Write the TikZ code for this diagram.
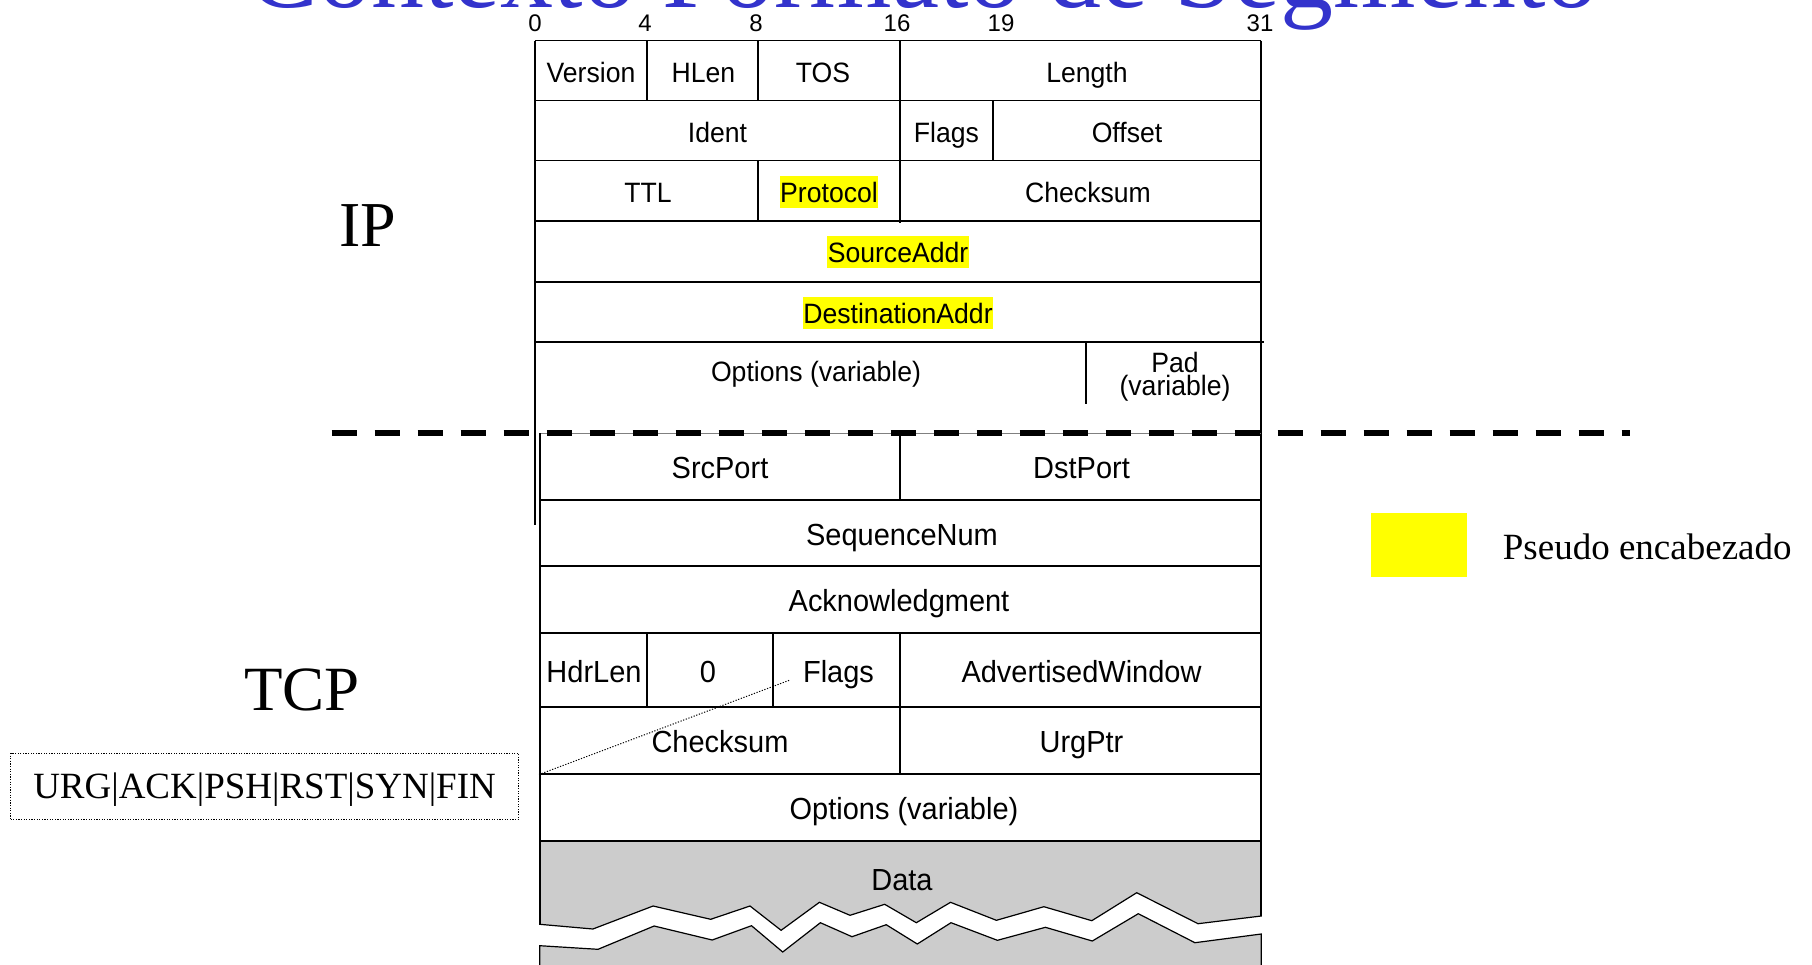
\documentclass[tikz,border=0pt]{standalone}
\usepackage{fontspec}
\setmainfont{Liberation Serif}
\newfontfamily\tblf[FakeStretch=0.95]{Liberation Sans}
\newfontfamily\bitf{Liberation Sans}
\definecolor{hlyellow}{RGB}{255,255,0}
\definecolor{titleblue}{RGB}{51,51,204}
\definecolor{datagray}{RGB}{204,204,204}
\begin{document}
\begin{tikzpicture}[x=1pt,y=-1pt,
  ipc/.style={font=\tblf\fontsize{28}{30}\selectfont, inner sep=0pt, anchor=base},
  tcpc/.style={font=\tblf\fontsize{30.5}{33}\selectfont, inner sep=0pt, anchor=base},
  hl/.style={fill=hlyellow, text height=26pt, text depth=5pt, inner ysep=0.5pt, inner xsep=0.5pt},
  bit/.style={font=\bitf\fontsize{24}{26}\selectfont, inner sep=0pt},
  gridline/.style={line width=1.6pt},
  zig/.style={line width=1.2pt},
  big/.style={font=\fontsize{64}{66}\selectfont, inner sep=0pt, anchor=base}]
\useasboundingbox (0,0) rectangle (1812,964);
\clip (0,0) rectangle (1812,964);

% title (cut off at top)
\node[font=\fontsize{106}{110}\selectfont, text=titleblue, anchor=base, inner sep=0pt] (title) at (923,7) {Contexto Formato de Segmento};

% bit numbers
\node[bit] (b0) at (535,23) {0};
\node[bit] (b4) at (645,23) {4};
\node[bit] (b8) at (756,23) {8};
\node[bit] (b16) at (897,23) {16};
\node[bit] (b19) at (1001,23) {19};
\node[bit] (b31) at (1260,23) {31};

% ---- TCP data area (gray, broken)
\filldraw[fill=datagray, zig] (539.7,841) -- (1261,841) -- (1261.2,916)
  -- (1198,923.7) -- (1136.7,892.7) -- (1091.8,920.7) -- (1043.9,906.7)
  -- (996.4,920.3) -- (950.5,902.3) -- (916.3,922.7) -- (884.7,904.3)
  -- (850,915.3) -- (819.4,902.3) -- (781.1,930.3) -- (750,906)
  -- (710.7,919.3) -- (653.1,906) -- (592.9,929) -- (539.8,924.3) -- cycle;
\fill[datagray] (539.8,975) -- (539.8,945.7) -- (598,949.3) -- (654.1,926)
  -- (712.2,940) -- (751.5,925.7) -- (782.7,952) -- (820.4,922.7)
  -- (852,936.7) -- (886.2,924.7) -- (917.3,944) -- (951,922.7)
  -- (997.4,940.3) -- (1045.4,927.3) -- (1092.3,941) -- (1138.3,913.7)
  -- (1194.9,942.7) -- (1261.2,934) -- (1261.2,975) -- cycle;
\draw[zig] (539.8,975) -- (539.8,945.7) -- (598,949.3) -- (654.1,926)
  -- (712.2,940) -- (751.5,925.7) -- (782.7,952) -- (820.4,922.7)
  -- (852,936.7) -- (886.2,924.7) -- (917.3,944) -- (951,922.7)
  -- (997.4,940.3) -- (1045.4,927.3) -- (1092.3,941) -- (1138.3,913.7)
  -- (1194.9,942.7) -- (1261.2,934) -- (1261.2,975);

% ---- IP header grid
\draw[gridline] (535,40.5) -- (1261,40.5);
\draw[gridline] (535,100.5) -- (1261,100.5);
\draw[gridline] (535,160.6) -- (1261,160.6);
\draw[gridline] (535,220.7) -- (1261,220.7);
\draw[gridline] (535,282) -- (1261,282);
\draw[gridline] (535,342) -- (1264,342);
\draw[gridline] (535,40.5) -- (535,525);
\draw[gridline] (1261,40.5) -- (1261,916);
\draw[gridline] (647,40.5) -- (647,100.5);
\draw[gridline] (758,40.5) -- (758,100.5);
\draw[gridline] (758,160.6) -- (758,220.7);
\draw[gridline] (900,40.5) -- (900,223);
\draw[gridline] (993,100.5) -- (993,160.6);
\draw[gridline] (1086,342) -- (1086,404);

% ---- TCP header grid
\draw[gray, line width=1pt] (539.7,433) -- (1261,433);
\draw[gridline] (539.7,433) -- (539.7,924.3);
\foreach \yy in {500,566,633,707,774,841}
  \draw[gridline] (539.7,\yy) -- (1261,\yy);
\draw[gridline] (900,433) -- (900,500);
\draw[gridline] (647,633) -- (647,707);
\draw[gridline] (773,633) -- (773,707);
\draw[gridline] (900,633) -- (900,774);

% dashed separator
\draw[line width=6.7pt, dash pattern=on 25pt off 18pt] (331.6,433) -- (1629.5,433);

% ---- IP labels
\node[ipc] (version) at (591,82) {Version};
\node[ipc] (hlen) at (703.5,82) {HLen};
\node[ipc] (tos) at (823,82) {TOS};
\node[ipc] (length) at (1087,82) {Length};
\node[ipc] (ident) at (717.5,142) {Ident};
\node[ipc] (ipflags) at (946.5,142) {Flags};
\node[ipc] (offset) at (1127,142) {Offset};
\node[ipc] (ttl) at (648,202) {TTL};
\node[ipc, hl] (protocol) at (829,202) {Protocol};
\node[ipc] (ipcsum) at (1088,202) {Checksum};
\node[ipc, hl] (srcaddr) at (898,262.5) {SourceAddr};
\node[ipc, hl] (dstaddr) at (898,323) {DestinationAddr};
\node[ipc] (ipopts) at (816,381.7) {Options (variable)};
\node[font=\tblf\fontsize{28}{23.5}\selectfont, inner sep=0pt, align=center] (pad) at (1175,376.5) {Pad\\(variable)};

% ---- TCP labels
\node[tcpc] (srcport) at (720,478.5) {SrcPort};
\node[tcpc] (dstport) at (1081.5,478.5) {DstPort};
\node[tcpc] (seqnum) at (902,545) {SequenceNum};
\node[tcpc] (ack) at (899,611.5) {Acknowledgment};
\node[tcpc] (hdrlen) at (594,682) {HdrLen};
\node[tcpc] (zero) at (708,682) {0};
\node[tcpc] (tcpflags) at (838.5,682) {Flags};
\node[tcpc] (advwin) at (1081.5,682) {AdvertisedWindow};
\node[tcpc] (tcpcsum) at (720,752.5) {Checksum};
\node[tcpc] (urgptr) at (1081.5,752.5) {UrgPtr};
\node[tcpc] (tcpopts) at (904,819.5) {Options (variable)};
\node[tcpc] (data) at (902,890) {Data};

% side labels
\node[big] (iplab) at (368,246) {IP};
\node[big, font=\fontsize{63}{65}\selectfont] (tcplab) at (302,710) {TCP};

% flags box and dotted pointer
\node[draw, line width=1.1pt, dash pattern=on 1.2pt off 1.4pt, minimum width=508pt, minimum height=66pt, inner sep=0pt,
      font=\fontsize{37}{39}\selectfont, text height=25pt, text depth=0pt] (flagsbox) at (264.6,786.3) {URG|ACK|PSH|RST|SYN|FIN};
\coordinate (dotA) at (539,774.5);
\coordinate (dotB) at (790,680);
\draw[line width=1pt, dash pattern=on 1.2pt off 1.6pt] (dotA) -- (dotB);

% legend
\node[fill=hlyellow, minimum width=96pt, minimum height=64pt, inner sep=0pt, anchor=north west] (legbox) at (1371,513) {};
\node[font=\fontsize{37}{39}\selectfont, inner sep=0pt, anchor=base west] (legtext) at (1502.7,559.3) {Pseudo encabezado};
\end{tikzpicture}
\end{document}
